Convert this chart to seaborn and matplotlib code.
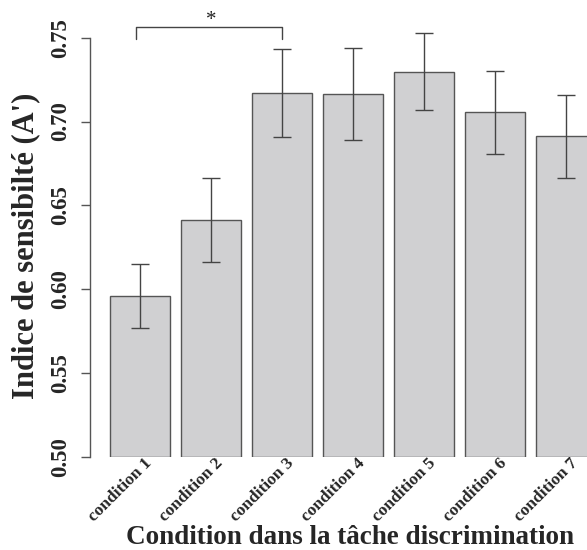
import numpy as np
import pandas as pd
import matplotlib
matplotlib.use("Agg")
import matplotlib.pyplot as plt
import matplotlib.transforms as mtransforms
import seaborn as sns

conditions = ["condition 1", "condition 2", "condition 3", "condition 4",
              "condition 5", "condition 6", "condition 7"]
means = [0.596, 0.641, 0.717, 0.7163, 0.7298, 0.7054, 0.6912]
sems = [0.0192, 0.025, 0.026, 0.0274, 0.0232, 0.0246, 0.0248]
yticks = [0.50, 0.55, 0.60, 0.65, 0.70, 0.75]
ytick_labels = ["0.50", "0.55", "0.60", "0.65", "0.70", "0.75"]
sig_pair = (0, 2)
sig_label = "*"

sns.set_theme(style="white")
plt.rcParams['font.family'] = ['Liberation Serif', 'DejaVu Serif']

df = pd.DataFrame({"condition": conditions, "value": means})

fig = plt.figure(figsize=(5.87, 5.5), dpi=100)
ax = fig.add_axes([90.3 / 587, (550 - 456.7) / 550, 525.4 / 587, 419 / 550])

sns.barplot(data=df, x="condition", y="value", color="#d0d0d2", saturation=1,
            errorbar=None, width=0.845, edgecolor="#555555", linewidth=1.0, ax=ax)

base = yticks[0]
for p in ax.patches:
    h = p.get_height()
    p.set_y(base)
    p.set_height(h - base)

xs = np.arange(len(conditions))
eb = ax.errorbar(xs, means, yerr=sems, fmt="none", ecolor="#444444",
                 elinewidth=1.0, capsize=6.5, capthick=1.0)
for art in list(eb.lines[1]) + list(eb.lines[2]):
    art.set_clip_on(False)

ax.set_xlim(-0.7, 6.7)
ax.set_ylim(0.5, 0.75)

# significance bracket
x0, x1 = sig_pair
yb, yt = 0.749, 0.7564
ax.plot([x0 - 0.06, x0 - 0.06, x1, x1], [yb, yt, yt, yb], color="#444444",
        lw=1.0, clip_on=False)
ax.text((x0 + x1) / 2, 0.7605, sig_label, ha="center", va="center",
        fontsize=15, color="#222222", clip_on=False)

for s in ["top", "right", "bottom"]:
    ax.spines[s].set_visible(False)
ax.spines["left"].set_color("#555555")
ax.spines["left"].set_linewidth(1.0)

ax.set_yticks(yticks)
ax.set_yticklabels(ytick_labels, rotation=90, va="center", fontsize=16.5,
                   fontweight="bold")
ax.tick_params(axis="y", length=6.5, width=1.0, color="#555555", pad=7.5,
               left=True)

ax.set_xticks(xs)
ax.set_xticklabels(conditions, rotation=45, ha="right", va="top",
                   rotation_mode="anchor", fontsize=12.5, fontweight="bold")
ax.tick_params(axis="x", length=0, pad=0, bottom=False)
offset = mtransforms.ScaledTranslation(4 / 100, 1.5 / 100, fig.dpi_scale_trans)
for lab in ax.get_xticklabels():
    lab.set_transform(lab.get_transform() + offset)

ax.set_xlabel("Condition dans la tâche discrimination", fontsize=19.5,
              fontweight="bold")
ax.xaxis.set_label_coords((350 - 90.3) / 525.4, (456.7 - 538) / 419)
ax.xaxis.label.set_va("center")
ax.set_ylabel("Indice de sensibilté (A')", fontsize=22, fontweight="bold")
ax.yaxis.set_label_coords((26 - 90.3) / 525.4, (456.7 - 246) / 419)
ax.yaxis.label.set_va("center")

fig.savefig("out.png", dpi=100)
